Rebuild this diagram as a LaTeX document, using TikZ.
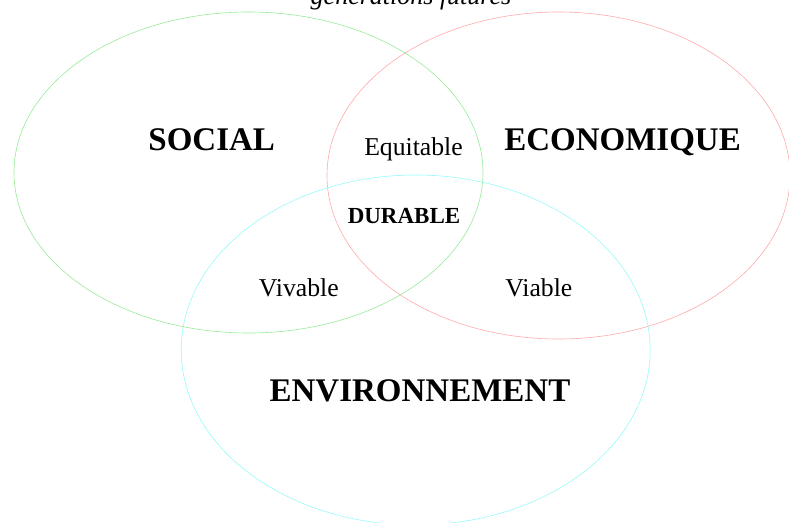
\documentclass[tikz,border=0pt]{standalone}
\usepackage{fontspec}
\setmainfont{Liberation Serif}
\definecolor{cgreen}{RGB}{150,235,150}
\definecolor{cred}{RGB}{255,170,170}
\definecolor{ccyan}{RGB}{150,250,250}
\tikzset{
  ring/.style={line width=0.6pt},
  bigl/.style={anchor=base, inner sep=0pt, font=\fontsize{33}{33}\selectfont\bfseries},
  midl/.style={anchor=base, inner sep=0pt, font=\fontsize{23}{23}\selectfont\bfseries},
  smalll/.style={anchor=base, inner sep=0pt, font=\fontsize{25.7}{26}\selectfont},
  titl/.style={anchor=base, inner sep=0pt, font=\fontsize{26}{26}\selectfont\itshape}
}
\begin{document}
\begin{tikzpicture}[x=1pt,y=-1pt]
\useasboundingbox (0,0) rectangle (789,522);
\clip (0,0) rectangle (789,522);
\draw[ring, cgreen] (248.5,172.5) ellipse [x radius=234.5, y radius=160.5];
\draw[ring, cred] (558.5,175.5) ellipse [x radius=231.5, y radius=163.5];
\draw[ring, ccyan] (415.7,350) ellipse [x radius=234.5, y radius=175];
\node[titl] (title) at (411,5) {générations futures};
\node[bigl] (social) at (211.7,150) {SOCIAL};
\node[bigl] (eco) at (622.5,150) {ECONOMIQUE};
\node[bigl] (env) at (420,401) {ENVIRONNEMENT};
\node[midl] (dur) at (404,223.3) {DURABLE};
\node[smalll] (equ) at (413.5,155) {Equitable};
\node[smalll] (viv) at (298.8,296) {Vivable};
\node[smalll] (via) at (538.9,296) {Viable};
\end{tikzpicture}
\end{document}
